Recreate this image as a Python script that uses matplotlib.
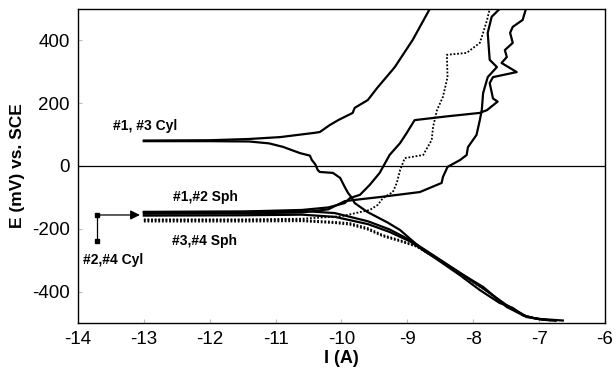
import numpy as np
import matplotlib.pyplot as plt

plt.rcParams['font.family'] = ['Liberation Sans', 'DejaVu Sans']
plt.rcParams['axes.unicode_minus'] = False

# log current (A) and potential (mV vs SCE)
cyl_an_I = [-13.0, -12.0, -11.4, -10.93, -10.43, -10.33, -10.18, -10.05, -9.83, -9.80,
            -9.60, -9.46, -9.19, -8.92, -8.66]
cyl_an_E = [81, 82, 86, 92, 105, 108, 130, 146, 169, 185, 210, 248, 315, 401, 500]

cyl_cat_I = [-13.0, -12.0, -11.4, -11.1, -10.89, -10.63, -10.48, -10.45, -10.40, -10.36,
             -10.33, -10.13, -10.02, -9.95, -9.90, -9.84, -9.80, -9.61, -9.30, -9.11,
             -8.76, -8.35, -7.85, -7.49, -7.19, -6.99, -6.64]
cyl_cat_E = [79, 79, 78, 72, 61, 41, 33, 19, 6, -13, -19, -22, -38, -67, -86, -102, -118,
             -146, -180, -204, -268, -322, -385, -449, -481, -487, -492]

sph1_cat_I = [-13.0, -11.5, -10.6, -10.1, -9.6, -9.27, -8.96, -8.6, -8.2, -7.85, -7.5,
              -7.2, -7.0, -6.75]
sph1_cat_E = [-147, -146, -143, -150, -176, -202, -236, -285, -340, -390, -442, -478,
              -488, -493]
sph2_cat_I = [-13.0, -11.5, -10.6, -10.1, -9.6, -9.27, -8.96, -8.6, -8.2, -7.9, -7.6,
              -7.4, -7.25, -7.1, -6.9]
sph2_cat_E = [-158, -157, -155, -162, -185, -210, -240, -290, -348, -395, -436, -452,
              -475, -484, -490]
sph3_cat_I = [-13.0, -11.5, -10.6, -10.1, -9.87, -9.61, -9.37, -9.11, -8.86, -8.5, -8.1,
              -7.8, -7.5, -7.2, -7.0, -6.8]
sph3_cat_E = [-172, -172, -172, -178, -182, -197, -220, -236, -255, -300, -355, -395,
              -445, -478, -487, -492]
sph4_cat_I = [-13.0, -11.5, -10.6, -10.1, -9.87, -9.61, -9.37, -9.11, -8.86, -8.5, -8.1,
              -7.8, -7.5, -7.2, -7.0, -6.8]
sph4_cat_E = [-177, -177, -176, -182, -187, -202, -224, -240, -257, -302, -357, -397,
              -447, -479, -488, -493]

sph1_an_I = [-13.0, -11.5, -10.6, -10.2, -9.95, -9.87, -9.72, -9.57, -9.42, -9.27, -9.11,
             -9.01, -8.89, -8.4, -7.90, -7.79, -7.63, -7.70, -7.75, -7.70, -7.34, -7.57,
             -7.49, -7.52, -7.40, -7.44, -7.40, -7.25, -7.20]
sph1_an_E = [-146, -145, -140, -132, -118, -102, -92, -60, -22, 35, 73, 105, 146, 158, 169,
             178, 205, 215, 264, 283, 299, 328, 347, 369, 392, 424, 443, 465, 500]
sph2_an_I = [-13.0, -11.5, -10.6, -10.2, -9.95, -9.80, -9.42, -8.81, -8.48, -8.46, -8.39,
             -8.20, -8.10, -8.08, -7.95, -7.90, -7.87, -7.85, -7.78, -7.64, -7.75, -7.78,
             -7.72, -7.60]
sph2_an_E = [-152, -151, -148, -138, -112, -108, -99, -83, -54, -35, -3, 19, 35, 60, 99,
             146, 178, 232, 283, 315, 338, 424, 475, 500]
sph3_an_I = [-13.0, -11.5, -10.6, -10.0, -9.57, -9.45, -9.37, -9.22, -9.16, -9.11, -9.04,
             -8.76, -8.63, -8.61, -8.55, -8.46, -8.39, -8.40, -8.10, -7.90, -7.85, -7.79,
             -7.75]
sph3_an_E = [-170, -170, -168, -160, -140, -124, -102, -83, -54, -13, 25, 35, 83, 124, 178,
             220, 283, 354, 360, 392, 424, 465, 500]

# annotation for the #2,#4 Cyl curves
cyl24_I = -13.71
cyl24_E = [-156, -239]
arrow_tip_I = -13.06

fig = plt.figure(figsize=(6.16, 3.73), dpi=100)
ax = fig.add_axes([0.1266, 0.134, 0.8555, 0.842])

lw = 1.6
ax.plot(cyl_an_I, cyl_an_E, color='black', lw=lw)
ax.plot(cyl_cat_I, cyl_cat_E, color='black', lw=lw)
ax.plot(sph1_cat_I, sph1_cat_E, color='black', lw=lw)
ax.plot(sph2_cat_I, sph2_cat_E, color='black', lw=lw)
ax.plot(sph1_an_I, sph1_an_E, color='black', lw=lw)
ax.plot(sph2_an_I, sph2_an_E, color='black', lw=lw)
ax.plot(sph3_cat_I, sph3_cat_E, color='black', lw=1.3, ls=(0, (1, 1)))
ax.plot(sph4_cat_I, sph4_cat_E, color='black', lw=1.3, ls=(0, (1, 1)))
ax.plot(sph3_an_I, sph3_an_E, color='black', lw=1.3, ls=(0, (1, 1)))

ax.axhline(0, color='black', lw=0.9)

# bracket with arrow
ax.plot([cyl24_I, cyl24_I], cyl24_E, color='black', lw=0.9, marker='s', ms=2.5)
ax.annotate('', xy=(arrow_tip_I, cyl24_E[0]), xytext=(cyl24_I, cyl24_E[0]),
            arrowprops=dict(arrowstyle='-|>', color='black', lw=0.9,
                            mutation_scale=14, shrinkA=0, shrinkB=0))

lab = dict(fontsize=10, fontweight='bold', ha='center', va='center')
ax.text(-12.98, 127, '#1, #3 Cyl', **lab)
ax.text(-12.06, -99, '#1,#2 Sph', **lab)
ax.text(-12.08, -239, '#3,#4 Sph', **lab)
ax.text(-13.47, -299, '#2,#4 Cyl', **lab)

ax.set_xlim(-14, -6)
ax.set_ylim(-500, 500)
ax.set_xticks(np.arange(-14, -5, 1))
ax.set_yticks([-400, -200, 0, 200, 400])
ax.tick_params(labelsize=13.5, length=3, color='#bbbbbb', direction='in', pad=6)
for s in ax.spines.values():
    s.set_linewidth(1.0)

ax.set_xlabel('I (A)', fontsize=13, fontweight='bold', labelpad=1)
ax.set_ylabel('E (mV) vs. SCE', fontsize=12.5, fontweight='bold', labelpad=5)

fig.savefig('out.png', dpi=100)
